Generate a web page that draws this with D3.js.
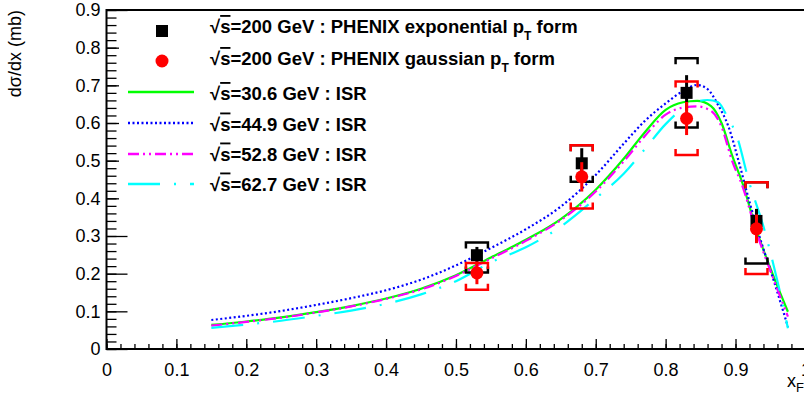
<!DOCTYPE html>
<html>
<head>
<meta charset="utf-8">
<script src="https://cdn.jsdelivr.net/npm/d3@7"></script>
<style>
  html, body { margin: 0; padding: 0; background: #fff; }
  svg { display: block; font-family: "Liberation Sans", Arial, Helvetica, sans-serif; }
</style>
</head>
<body>
<svg id="chart" width="804" height="394"></svg>
<script>
// x_F positions of the PHENIX points
const xF = [0.53, 0.68, 0.83, 0.93];

// exponential pT form (black squares)
const expY = [0.249, 0.493, 0.680, 0.340];
const expStat = [0.022, 0.040, 0.047, 0.032];
const expSysLow = [0.203, 0.444, 0.588, 0.227];
const expSysHigh = [0.283, 0.541, 0.772, 0.443];

// gaussian pT form (red circles)
const gausY = [0.202, 0.457, 0.612, 0.319];
const gausStat = [0.030, 0.039, 0.044, 0.038];
const gausSysLow = [0.157, 0.373, 0.515, 0.199];
const gausSysHigh = [0.228, 0.541, 0.710, 0.443];

// ISR parametrisations, [x_F, dsigma/dx]
const isr306 = [[0.15,0.064],[0.2,0.073],[0.25,0.084],[0.3,0.098],[0.35,0.114],[0.4,0.134],[0.45,0.160],[0.5,0.196],[0.55,0.243],[0.6,0.290],[0.65,0.345],[0.7,0.423],[0.74,0.505],[0.77,0.575],[0.8,0.635],[0.825,0.655],[0.845,0.659],[0.865,0.645],[0.88,0.600],[0.895,0.515],[0.91,0.440],[0.93,0.316],[0.955,0.190],[0.975,0.099]];
const isr449 = [[0.15,0.077],[0.2,0.088],[0.25,0.101],[0.3,0.117],[0.35,0.135],[0.4,0.156],[0.45,0.184],[0.5,0.222],[0.55,0.268],[0.6,0.318],[0.65,0.378],[0.7,0.462],[0.74,0.545],[0.77,0.605],[0.8,0.652],[0.825,0.685],[0.845,0.701],[0.86,0.690],[0.875,0.648],[0.89,0.590],[0.905,0.495],[0.915,0.425],[0.93,0.325],[0.955,0.180],[0.975,0.059]];
const isr528 = [[0.15,0.062],[0.2,0.072],[0.25,0.083],[0.3,0.097],[0.35,0.113],[0.4,0.133],[0.45,0.158],[0.5,0.194],[0.55,0.240],[0.6,0.287],[0.65,0.342],[0.7,0.418],[0.74,0.498],[0.77,0.565],[0.8,0.622],[0.825,0.641],[0.845,0.644],[0.865,0.632],[0.88,0.590],[0.895,0.500],[0.91,0.432],[0.93,0.310],[0.955,0.183],[0.975,0.086]];
const isr627 = [[0.15,0.056],[0.2,0.065],[0.25,0.075],[0.3,0.088],[0.35,0.102],[0.4,0.120],[0.45,0.145],[0.5,0.180],[0.55,0.230],[0.6,0.270],[0.65,0.325],[0.7,0.400],[0.74,0.465],[0.77,0.530],[0.8,0.597],[0.83,0.645],[0.86,0.661],[0.875,0.655],[0.89,0.610],[0.9,0.575],[0.92,0.440],[0.94,0.325],[0.96,0.180],[0.975,0.055]];

const xTicks = [0, 0.1, 0.2, 0.3, 0.4, 0.5, 0.6, 0.7, 0.8, 0.9, 1];
const yTicks = [0, 0.1, 0.2, 0.3, 0.4, 0.5, 0.6, 0.7, 0.8, 0.9];

const curves = [
  { name: "30.6", data: isr306, color: "#00ff00", dash: null },
  { name: "44.9", data: isr449, color: "#0000ff", dash: "2,2.5" },
  { name: "52.8", data: isr528, color: "#ff00ff", dash: "11,4,2,4,2,4" },
  { name: "62.7", data: isr627, color: "#00ffff", dash: "32,14,2,14" },
];

const svg = d3.select("#chart");

const x = d3.scaleLinear().domain([0, 1]).range([106.5, 805.4]);
const y = d3.scaleLinear().domain([0, 0.9]).range([349, 10]);

// ---- axes (ROOT style, ticks pointing inside) ----
const xMinor = d3.range(0, 1.001, 0.02);
const yMinor = d3.range(0, 0.901, 0.02);

svg.append("g")
  .attr("transform", "translate(0,349)")
  .call(d3.axisBottom(x).tickValues(xMinor).tickSize(-5).tickFormat(""))
  .call((g) => g.select(".domain").remove())
  .call((g) => g.selectAll("line").attr("stroke", "#000").attr("stroke-width", 1.3));
svg.append("g")
  .attr("transform", "translate(0,349)")
  .call(d3.axisBottom(x).tickValues(xTicks).tickSize(-10).tickPadding(14).tickFormat(d3.format("")))
  .call((g) => g.select(".domain").remove())
  .call((g) => g.selectAll("line").attr("stroke", "#000").attr("stroke-width", 1.3))
  .call((g) => g.selectAll("text").attr("font-size", 18).attr("fill", "#000").attr("font-family", "Liberation Sans, Arial, sans-serif"));

svg.append("g")
  .attr("transform", "translate(106.5,0)")
  .call(d3.axisLeft(y).tickValues(yMinor).tickSize(-10).tickFormat(""))
  .call((g) => g.select(".domain").remove())
  .call((g) => g.selectAll("line").attr("stroke", "#000").attr("stroke-width", 1.3));
svg.append("g")
  .attr("transform", "translate(106.5,0)")
  .call(d3.axisLeft(y).tickValues(yTicks).tickSize(-21).tickPadding(6).tickFormat(d3.format("")))
  .call((g) => g.select(".domain").remove())
  .call((g) => g.selectAll("line").attr("stroke", "#000").attr("stroke-width", 1.3))
  .call((g) => g.selectAll("text").attr("font-size", 18).attr("fill", "#000").attr("font-family", "Liberation Sans, Arial, sans-serif"));

// frame lines
svg.append("path")
  .attr("d", `M${x(1)},${y(0.9)}H${x(0)}V${y(0)}H${x(1)}`)
  .attr("fill", "none").attr("stroke", "#000").attr("stroke-width", 2);

// axis titles
svg.append("text")
  .attr("transform", "translate(21,10) rotate(-90)")
  .attr("text-anchor", "end")
  .attr("font-size", 18)
  .text("dσ/dx (mb)");

const xt = svg.append("text").attr("x", 804).attr("y", 387).attr("text-anchor", "end").attr("font-size", 18);
xt.append("tspan").text("x");
xt.append("tspan").attr("dy", 5).attr("font-size", 13).text("F");

// legend background covers the upper tick marks
svg.append("rect").attr("x", 119).attr("y", 12).attr("width", 446).attr("height", 190).attr("fill", "#fff");

// ---- ISR curves ----
const line = d3.line().x((d) => x(d[0])).y((d) => y(d[1])).curve(d3.curveMonotoneX);
curves.forEach((c) => {
  svg.append("path")
    .datum(c.data)
    .attr("d", line)
    .attr("fill", "none")
    .attr("stroke", c.color)
    .attr("stroke-width", 2.2)
    .attr("stroke-dasharray", c.dash);
});

// ---- PHENIX points ----
const bw = 11, bl = 6;
const drawBrackets = (g, xs, lo, hi, color) => {
  g.selectAll(null).data(xs).join("path")
    .attr("d", (d, i) => {
      const cx = x(d), t = y(hi[i]), b = y(lo[i]);
      return `M${cx - bw},${t + bl}V${t}H${cx + bw}V${t + bl}` +
             `M${cx - bw},${b - bl}V${b}H${cx + bw}V${b - bl}`;
    })
    .attr("fill", "none").attr("stroke", color).attr("stroke-width", 2.5);
};
const drawStat = (g, xs, ys, err, color) => {
  g.selectAll(null).data(xs).join("line")
    .attr("x1", (d) => x(d)).attr("x2", (d) => x(d))
    .attr("y1", (d, i) => y(ys[i] + err[i]))
    .attr("y2", (d, i) => y(ys[i] - err[i]))
    .attr("stroke", color).attr("stroke-width", 3);
};

const gExp = svg.append("g");
drawStat(gExp, xF, expY, expStat, "#000");
gExp.selectAll("rect").data(xF).join("rect")
  .attr("x", (d) => x(d) - 6).attr("y", (d, i) => y(expY[i]) - 6)
  .attr("width", 12).attr("height", 12).attr("fill", "#000");
drawBrackets(gExp, xF, expSysLow, expSysHigh, "#000");

const gGaus = svg.append("g");
gGaus.selectAll("circle").data(xF).join("circle")
  .attr("cx", (d) => x(d)).attr("cy", (d, i) => y(gausY[i]))
  .attr("r", 6.5).attr("fill", "#ff0000");
drawStat(gGaus, xF, gausY, gausStat, "#ff0000");
drawBrackets(gGaus, xF, gausSysLow, gausSysHigh, "#ff0000");

// ---- legend ----
const legRows = [
  { y: 33, my: 31, label: "200 GeV : PHENIX exponential p", sub: "T", tail: " form", marker: "square" },
  { y: 65, my: 61, label: "200 GeV : PHENIX gaussian p", sub: "T", tail: " form", marker: "circle" },
  { y: 100, my: 92, label: "30.6 GeV : ISR", curve: curves[0] },
  { y: 130.5, my: 123, label: "44.9 GeV : ISR", curve: curves[1] },
  { y: 160.5, my: 154, label: "52.8 GeV : ISR", curve: curves[2] },
  { y: 190.5, my: 184, label: "62.7 GeV : ISR", curve: curves[3] },
];

const leg = svg.append("g");
legRows.forEach((r) => {
  if (r.marker === "square") {
    leg.append("rect").attr("x", 156).attr("y", r.my - 6).attr("width", 12).attr("height", 12).attr("fill", "#000");
  } else if (r.marker === "circle") {
    leg.append("circle").attr("cx", 162).attr("cy", r.my).attr("r", 6.5).attr("fill", "#ff0000");
  } else {
    leg.append("line").attr("x1", 128).attr("x2", 194).attr("y1", r.my).attr("y2", r.my)
      .attr("stroke", r.curve.color).attr("stroke-width", 2.5).attr("stroke-dasharray", r.curve.dash);
  }
  const t = leg.append("text").attr("x", 210).attr("y", r.y).attr("font-size", 18.5).attr("font-weight", "bold");
  t.append("tspan").text("√");
  t.append("tspan").attr("text-decoration", "overline").text("s");
  t.append("tspan").text("=" + r.label);
  if (r.sub) {
    t.append("tspan").attr("dy", 7).attr("font-size", 12).text(r.sub);
    t.append("tspan").attr("dy", -7).text(r.tail);
  }
});
</script>
</body>
</html>
